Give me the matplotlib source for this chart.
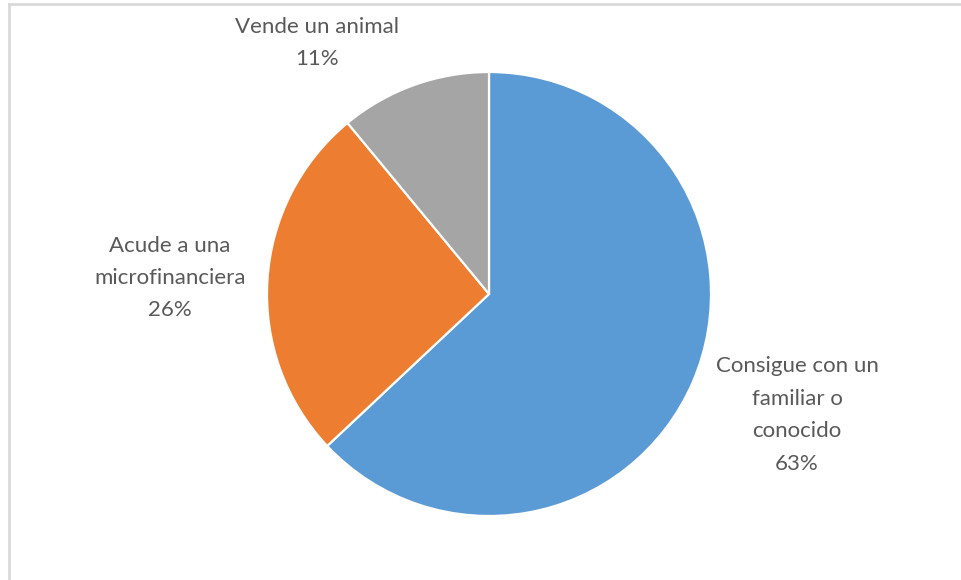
import matplotlib.pyplot as plt
from matplotlib.lines import Line2D

# shares of each source, clockwise from 12 o'clock
categories = ['Consigue con un\nfamiliar o\nconocido', 'Acude a una\nmicrofinanciera', 'Vende un animal']
shares = [63, 26, 11]
colors = ['#5B9BD5', '#ED7D31', '#A5A5A5']

# label anchor points in pixel coords (x, y from top)
label_pos = [(797, 415), (170, 278), (317, 43)]

W, H = 961, 580
fig = plt.figure(figsize=(W / 100, H / 100), dpi=100)
ax = fig.add_axes([0, 0, 1, 1])

ax.pie(shares, colors=colors, startangle=90, counterclock=False,
       center=(489, H - 294), radius=222, frame=True,
       wedgeprops=dict(edgecolor='white', linewidth=1.6))
ax.set_xlim(0, W)
ax.set_ylim(0, H)
ax.set_aspect('equal')
ax.axis('off')

for cat, val, (x, y) in zip(categories, shares, label_pos):
    ax.text(x, H - y, '%s\n%d%%' % (cat, val), ha='center', va='center',
            fontsize=16, family='Lato', color='#595959', linespacing=1.78)

# chart area border (only left and top visible)
fig.add_artist(Line2D([8.5 / W, 8.5 / W], [0, 1 - 4 / H], transform=fig.transFigure,
                      color='#D9D9D9', lw=2))
fig.add_artist(Line2D([8.5 / W, 1], [1 - 4 / H, 1 - 4 / H], transform=fig.transFigure,
                      color='#D9D9D9', lw=2))

fig.savefig('out.png', dpi=100, facecolor='white')
